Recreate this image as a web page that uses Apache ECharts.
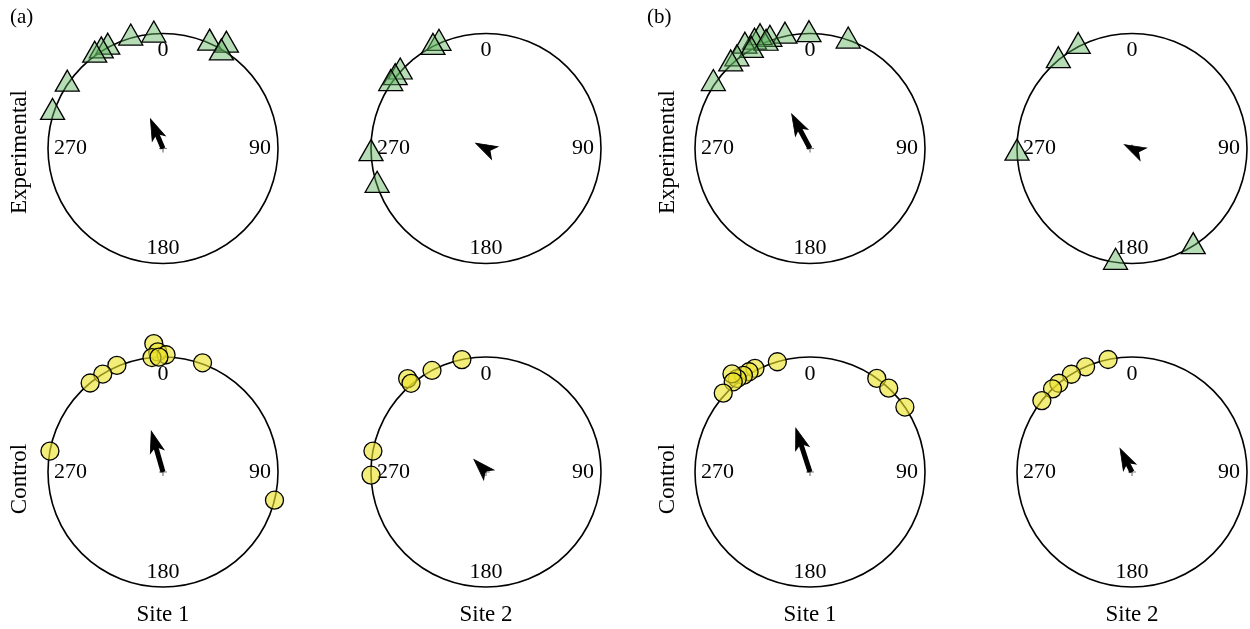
<!DOCTYPE html>
<html>
<head>
<meta charset="utf-8">
<script src="https://cdn.jsdelivr.net/npm/echarts@6/dist/echarts.min.js"></script>
<style>
  html, body { margin: 0; padding: 0; background: #fff; }
  #chart { width: 1250px; height: 629px; }
</style>
</head>
<body>
<div id="chart"></div>
<script>
// Panel letters, column and row captions
const panelLetters = ['(a)', '(b)'];
const siteNames = ['Site 1', 'Site 2'];
const groupNames = ['Experimental', 'Control'];
const angleTicks = [0, 90, 180, 270];

// Individual headings: [bearing in degrees clockwise from north, radial position (1 = on the circle)]
const aExpSite1 = [[355.5, 1.02], [344.2, 1.03], [332.2, 1.03], [328.6, 1.03], [324.8, 1.03],
  [305.3, 1.02], [289.7, 1.02], [23.2, 1.03], [30.7, 1.08], [30.5, 1.0]];
const aExpSite2 = [[336.6, 1.03], [333.1, 1.02], [313.0, 1.02], [309.3, 1.02], [305.7, 1.02],
  [269.2, 1.0], [253.0, 0.99]];
const aCtrlSite1 = [[355.9, 1.12], [357.5, 1.045], [1.5, 1.02], [354.5, 1.0], [358.0, 1.0],
  [336.6, 1.01], [328.4, 1.0], [320.7, 1.0], [280.5, 1.0], [19.9, 1.01], [104.2, 1.0]];
const aCtrlSite2 = [[347.9, 1.0], [332.0, 1.0], [320.0, 1.06], [319.8, 1.01], [280.5, 1.0], [268.4, 1.0]];

const bExpSite1 = [[359.5, 1.02], [19.0, 1.02], [347.8, 1.03], [340.4, 1.04], [336.4, 1.085],
  [333.2, 1.07], [328.4, 1.08], [338.0, 1.02], [330.0, 1.02], [321.9, 1.03], [318.0, 1.03], [305.3, 1.03]];
const bExpSite2 = [[333.0, 1.03], [321.1, 1.02], [269.4, 1.0], [188.5, 0.97], [147.1, 0.98]];
const bCtrlSite1 = [[343.5, 1.0], [332.0, 1.02], [328.7, 1.02], [325.4, 1.02], [322.1, 1.03],
  [321.5, 1.09], [319.6, 1.03], [312.3, 1.02], [35.5, 1.0], [43.2, 1.0], [55.6, 1.0]];
const bCtrlSite2 = [[348.0, 1.0], [336.2, 1.0], [328.2, 1.0], [320.5, 1.0], [316.3, 1.0], [308.4, 1.0]];

// Mean vectors per site: [bearing, resultant length]
const aExpMean = [[337, 0.28], [297, 0.10]];
const aCtrlMean = [[344, 0.37], [316, 0.15]];
const bExpMean = [[332, 0.34], [297, 0.075]];
const bCtrlMean = [[342, 0.40], [333, 0.23]];

// ---- layout & styling ----
const R = 115;                       // circle radius in px
const colX = [163, 486, 810, 1132];  // circle centres
const rowY = [148.5, 472];
const serif = 'Liberation Serif';
const HEAD_LEN = 21, HEAD_W = 10.5;  // arrow head size in px

const panels = [
  { exp: [aExpSite1, aExpSite2], ctrl: [aCtrlSite1, aCtrlSite2], expMean: aExpMean, ctrlMean: aCtrlMean },
  { exp: [bExpSite1, bExpSite2], ctrl: [bCtrlSite1, bCtrlSite2], expMean: bExpMean, ctrlMean: bCtrlMean }
];

const markerStyle = [
  { symbol: 'triangle', symbolSize: [24, 21],
    itemStyle: { color: 'rgba(96,180,96,0.45)', borderColor: '#000', borderWidth: 1.3, opacity: 1 } },
  { symbol: 'circle', symbolSize: 18,
    itemStyle: { color: 'rgba(236,226,40,0.62)', borderColor: '#000', borderWidth: 1.3, opacity: 1 } }
];

const polar = [], angleAxis = [], radiusAxis = [], series = [];

function addCircle(col, row, points, mean, kind) {
  const idx = polar.length;
  polar.push({ center: [colX[col], rowY[row]], radius: R });
  angleAxis.push({
    polarIndex: idx, type: 'value', min: 0, max: 360, interval: 90,
    startAngle: 90, clockwise: true,
    axisLine: { show: true, lineStyle: { color: '#000', width: 1.6 } },
    axisTick: { show: false }, splitLine: { show: false },
    axisLabel: {
      margin: -40, color: '#000', fontFamily: serif, fontSize: 22,
      formatter: v => angleTicks.indexOf(v) < 0 ? '' : '{t' + v + '|' + v + '}',
      rich: {
        t0: { fontFamily: serif, fontSize: 22, color: '#000', padding: [0, 0, 12, 0] },
        t90: { fontFamily: serif, fontSize: 22, color: '#000', padding: [0, 0, 0, 11] },
        t180: { fontFamily: serif, fontSize: 22, color: '#000', padding: [14, 0, 0, 0] },
        t270: { fontFamily: serif, fontSize: 22, color: '#000', padding: [0, 1, 0, 0] }
      }
    }
  });
  radiusAxis.push({
    polarIndex: idx, type: 'value', min: 0, max: 1,
    axisLine: { show: false }, axisTick: { show: false }, axisLabel: { show: false }, splitLine: { show: false }
  });

  const [bearing, rho] = mean;
  // shaft runs from the centre to the arrow-head notch
  const shaftEnd = Math.max(0, rho - HEAD_LEN * 0.7 / R);
  series.push({
    type: 'line', coordinateSystem: 'polar', polarIndex: idx, clip: false, silent: true,
    symbol: 'none', z: 3,
    lineStyle: { color: '#000', width: 5, opacity: 1 },
    data: [[0, bearing], [shaftEnd, bearing]]
  });
  // arrow head: the symbol's tip sits on its anchor, so anchor it at the vector end
  series.push({
    type: 'scatter', coordinateSystem: 'polar', polarIndex: idx, clip: false, silent: true, z: 4,
    symbol: 'arrow', symbolSize: [HEAD_W, HEAD_LEN], symbolRotate: -bearing,
    itemStyle: { color: '#000', borderColor: '#000', borderWidth: 1, opacity: 1 },
    data: [[rho, bearing]]
  });
  // centre cross
  series.push({
    type: 'scatter', coordinateSystem: 'polar', polarIndex: idx, clip: false, silent: true, z: 2,
    symbol: 'path://M-0.08,-1 L0.08,-1 L0.08,-0.08 L1,-0.08 L1,0.08 L0.08,0.08 L0.08,1 L-0.08,1 L-0.08,0.08 L-1,0.08 L-1,-0.08 L-0.08,-0.08 Z',
    symbolSize: 8, itemStyle: { color: '#000', opacity: 1 },
    data: [[0, 0]]
  });
  // individual headings
  series.push(Object.assign({
    type: 'scatter', coordinateSystem: 'polar', polarIndex: idx, clip: false, silent: true, z: 5,
    data: points.map(([a, r]) => [r, a])
  }, markerStyle[kind]));
}

panels.forEach((p, pi) => {
  for (let s = 0; s < 2; s++) {
    const col = pi * 2 + s;
    addCircle(col, 0, p.exp[s], p.expMean[s], 0);
    addCircle(col, 1, p.ctrl[s], p.ctrlMean[s], 1);
  }
});

const textFont = '23px "' + serif + '"';
const graphic = [];
panelLetters.forEach((t, i) => {
  graphic.push({ type: 'text', x: i === 0 ? 10 : 647, y: 17,
    style: { text: t, font: '21px "' + serif + '"', fill: '#000', align: 'left', verticalAlign: 'middle' } });
});
[20, 668].forEach(x => {
  groupNames.forEach((g, gi) => {
    graphic.push({ type: 'text', x: x, y: gi === 0 ? 152 : 479, rotation: Math.PI / 2,
      style: { text: g, font: textFont, fill: '#000', align: 'center', verticalAlign: 'middle' } });
  });
});
colX.forEach((x, ci) => {
  graphic.push({ type: 'text', x: x, y: 615,
    style: { text: siteNames[ci % 2], font: textFont, fill: '#000', align: 'center', verticalAlign: 'middle' } });
});

const chart = echarts.init(document.getElementById('chart'), null, { renderer: 'canvas' });
chart.setOption({
  animation: false,
  backgroundColor: '#fff',
  polar, angleAxis, radiusAxis, series, graphic
});
</script>
</body>
</html>
